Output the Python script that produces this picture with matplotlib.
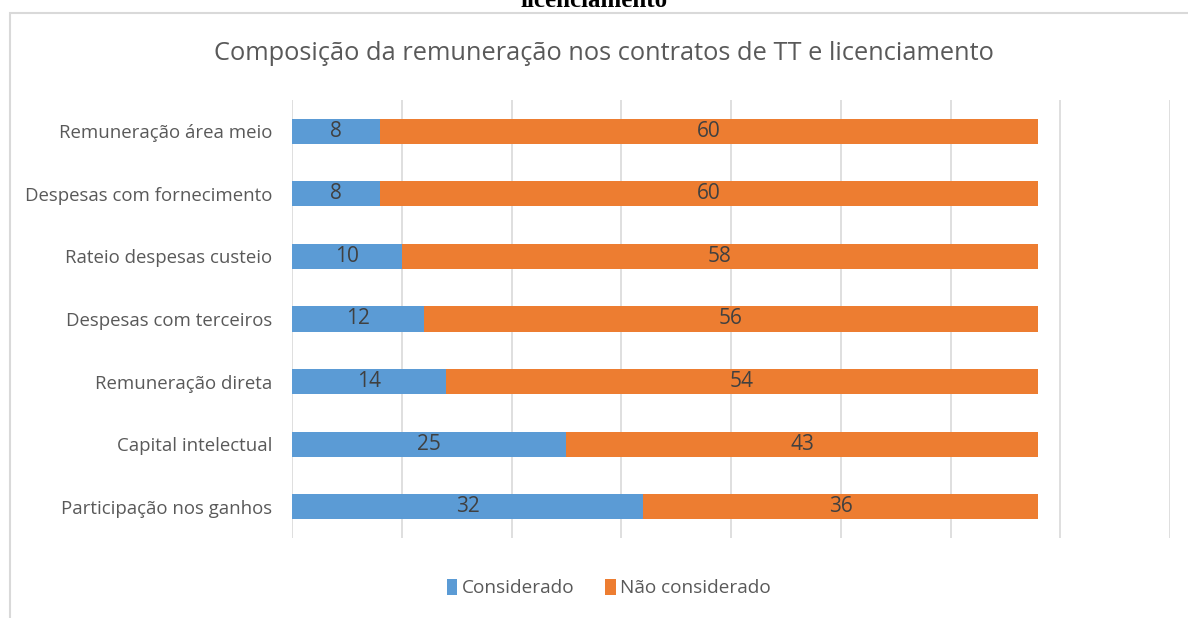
import matplotlib.pyplot as plt
from matplotlib.patches import Rectangle

categorias = ['Participação nos ganhos', 'Capital intelectual', 'Remuneração direta',
              'Despesas com terceiros', 'Rateio despesas custeio',
              'Despesas com fornecimento', 'Remuneração área meio']
considerado = [32, 25, 14, 12, 10, 8, 8]
nao_considerado = [36, 43, 54, 56, 58, 60, 60]

plt.rcParams['font.family'] = ['Open Sans', 'DejaVu Sans']

fig = plt.figure(figsize=(11.88, 6.18), dpi=100)
ax = fig.add_axes([292 / 1188, 1 - 538 / 618, 878 / 1188, 438 / 618])

# chart frame (cropped from a document page)
fig.patches.append(Rectangle((10 / 1188, -0.1), 1.1, 1 - 13 / 618 + 0.1, transform=fig.transFigure,
                             fill=False, edgecolor='#d9d9d9', linewidth=1.5))
fig.text(0.5, 1 - 7 / 618, 'licenciamento', ha='center', va='baseline', fontsize=18,
         fontweight='bold', family='Liberation Serif')

y = range(len(categorias))
b1 = ax.barh(y, considerado, height=0.4, color='#5B9BD5', label='Considerado')
b2 = ax.barh(y, nao_considerado, left=considerado, height=0.4, color='#ED7D31',
             label='Não considerado')
ax.bar_label(b1, label_type='center', fontsize=15, color='#404040')
ax.bar_label(b2, label_type='center', fontsize=15, color='#404040')

ax.set_xlim(0, 80)
ax.set_ylim(-0.5, len(categorias) - 0.5)
ax.set_xticks(range(0, 81, 10))
ax.set_xticklabels([])
ax.tick_params(axis='x', length=0)
ax.tick_params(axis='y', length=0, labelsize=13.4, labelcolor='#595959', pad=14)
ax.set_yticks(list(y))
ax.set_yticklabels(categorias)
ax.grid(axis='x', color='#d9d9d9', linewidth=1.2)
ax.set_axisbelow(True)
for s in ax.spines.values():
    s.set_visible(False)

fig.text(604 / 1188, 1 - 54 / 618, 'Composição da remuneração nos contratos de TT e licenciamento',
         ha='center', va='center', fontsize=18.3, color='#595959')
fig.legend(loc='center', bbox_to_anchor=(609 / 1188, 1 - 588 / 618), ncol=2, frameon=False,
           fontsize=13.7, labelcolor='#595959', handlelength=0.55, handleheight=0.9,
           handletextpad=0.25, columnspacing=1.6)

plt.savefig('out.png', dpi=100)
